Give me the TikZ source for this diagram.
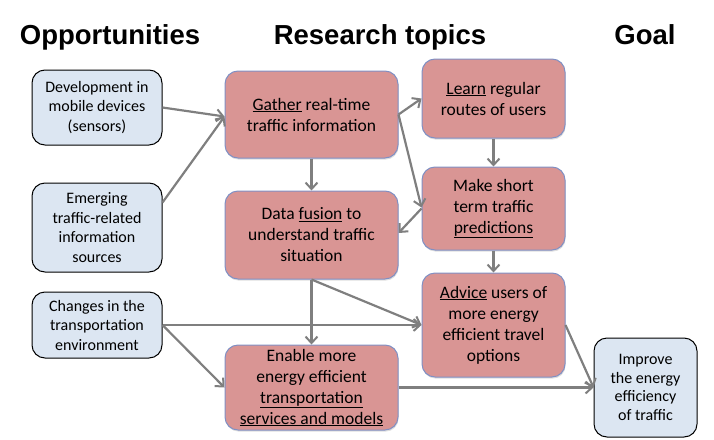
\documentclass[tikz,border=0pt]{standalone}
\usepackage{fontspec}
\setmainfont{Carlito}
\newfontfamily\titlefont{Liberation Sans}
\usetikzlibrary{arrows.meta,shadows,calc}
\definecolor{redfill}{HTML}{D99594}
\definecolor{redline}{HTML}{8090C4}
\definecolor{bluefill}{HTML}{DCE6F2}
\definecolor{arrowgray}{HTML}{7F7F7F}
\begin{document}
\begin{tikzpicture}[x=1pt,y=-1pt,
 redbox/.style={draw=redline, line width=1pt, fill=redfill, rounded corners=13pt, align=center, inner sep=0pt,
   drop shadow={shadow xshift=0.6pt, shadow yshift=-1.6pt, opacity=0.25},
   font=\fontsize{17.5}{21}\selectfont},
 bluebox/.style={draw=black, line width=1pt, fill=bluefill, rounded corners=13pt, align=center, inner sep=0pt,
   font=\fontsize{16}{19.5}\selectfont},
 conn/.style={draw=arrowgray, line width=2.2pt, -{Straight Barb[length=6.5pt,width=12pt,line width=2pt]}},
 title/.style={font=\titlefont\bfseries\fontsize{27.5}{30}\selectfont, anchor=base, inner sep=0pt}]
\useasboundingbox (0,0) rectangle (714,439);

% titles
\node[title] (t1) at (110,44) {Opportunities};
\node[title] (t2) at (380,44) {Research topics};
\node[title] (t3) at (645,44) {Goal};

% opportunities
\node[bluebox, minimum width=130pt, minimum height=75pt] (dev) at (97,107.5) {Development in\\mobile devices\\(sensors)};
\node[bluebox, minimum width=130pt, minimum height=89pt] (emerg) at (97,227.5) {Emerging\\traffic-related\\information\\sources};
\node[bluebox, minimum width=130pt, minimum height=66pt] (chg) at (97,325) {Changes in the\\transportation\\environment};

% research topics
\node[redbox, minimum width=173pt, minimum height=87pt] (gather) at (311.5,114.5) {\underline{Gather} real-time\\traffic information};
\node[redbox, minimum width=173pt, minimum height=88pt] (fusion) at (311.5,235) {Data \underline{fusion} to\\understand traffic\\situation};
\node[redbox, minimum width=173pt, minimum height=85pt] (enable) at (311.5,387.5) {Enable more\\energy efficient\\\underline{transportation}\\\underline{services and models}};
\node[redbox, minimum width=143pt, minimum height=79pt] (learn) at (493.5,98.5) {\underline{Learn} regular\\routes of users};
\node[redbox, minimum width=143pt, minimum height=83pt] (make) at (493.5,208.5) {Make short\\term traffic\\\underline{predictions}};
\node[redbox, minimum width=143pt, minimum height=104pt] (advice) at (493.5,325) {\underline{Advice} users of\\more energy\\efficient travel\\options};

% goal
\node[bluebox, minimum width=103pt, minimum height=99pt, font=\fontsize{16}{18.5}\selectfont] (improve) at (645.5,387.5) {Improve\\the energy\\efficiency\\of traffic};

% connectors
\coordinate (gin) at ($(gather.west)+(0,2)$);
\draw[conn] (dev.east) -- (gin);
\draw[conn] ($(emerg.east)+(0,-25)$) -- (gin);
\draw[conn] (gather.east) -- (learn.west);
\draw[conn] (gather.east) -- ($(make.west)+(0,-1)$);
\draw[conn] (gather.south) -- (fusion.north);
\draw[conn] (learn.south) -- (make.north);
\draw[conn] (make.west) -- ($(fusion.east)+(0,-2)$);
\draw[conn] (make.south) -- (advice.north);
\draw[conn] (fusion.south) -- (enable.north);
\draw[conn] (fusion.south) -- (advice.west);
\draw[conn] (chg.east) -- (advice.west);
\draw[conn] (chg.east) -- (enable.west);
\draw[conn] (advice.east) -- (improve.west);
\draw[conn] (enable.east) -- (improve.west);
\end{tikzpicture}
\end{document}
